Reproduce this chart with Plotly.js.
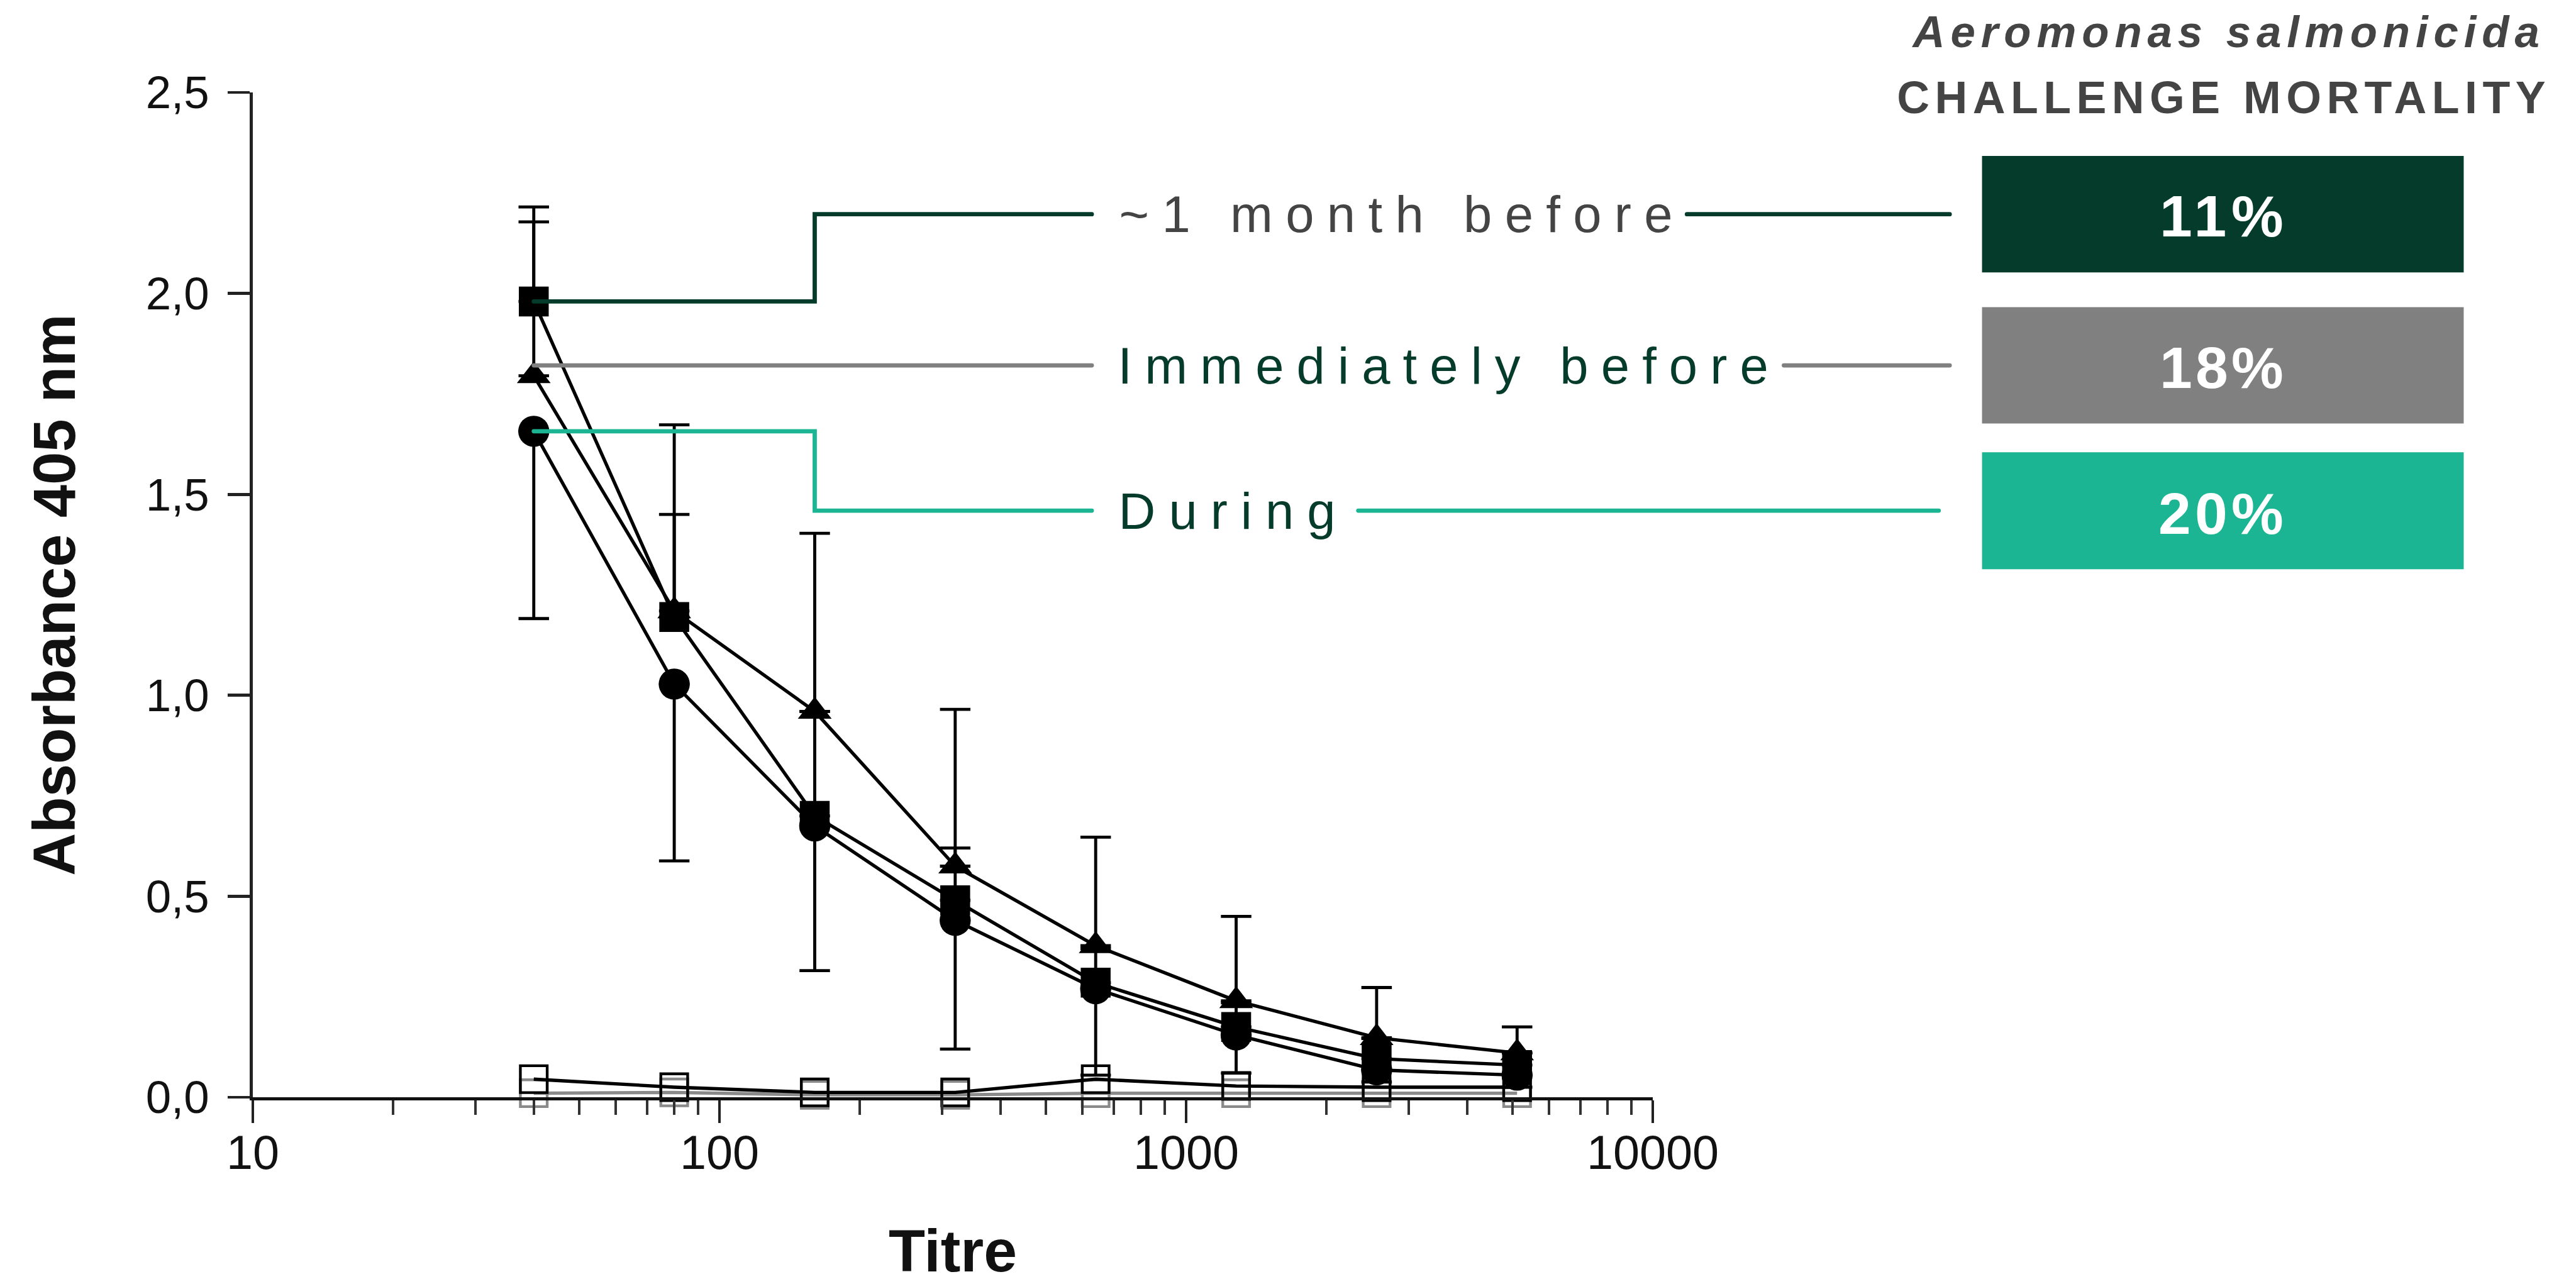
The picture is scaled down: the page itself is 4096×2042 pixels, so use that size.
<!DOCTYPE html>
<html><head><meta charset="utf-8">
<script src="https://cdn.plot.ly/plotly-3.0.1.min.js"></script>
<style>
html,body{margin:0;padding:0;background:#fff;overflow:hidden}
#chart{width:4096px;height:2042px}
.shapelayer path{stroke-linecap:round}
</style></head><body><div id="chart"></div>
<script>
// ---------- data ----------
const titres = [40, 80, 160, 320, 640, 1280, 2560, 5120];
const monthBefore = [1.98, 1.195, 0.70, 0.49, 0.285, 0.175, 0.096, 0.08];
const monthBeforeErrPlus = [0.235, 0.478, 0.26, 0.13, 0.085, 0.06, 0.05, 0.03];
const immediatelyBefore = [1.795, 1.21, 0.96, 0.575, 0.377, 0.24, 0.148, 0.11];
const immediatelyBeforeErrPlus = [0.383, 0.24, 0.443, 0.39, 0.27, 0.21, 0.125, 0.065];
const during = [1.657, 1.028, 0.675, 0.44, 0.27, 0.155, 0.068, 0.055];
const duringErrMinus = [0.466, 0.44, 0.36, 0.32, 0.215, 0.095, 0.03, 0.03];
const controlA = [0.045, 0.025, 0.012, 0.012, 0.045, 0.028, 0.025, 0.025];
const controlB = [0.01, 0.012, 0.006, 0.006, 0.01, 0.01, 0.01, 0.01];
const groupLabels = ['~1 month before', 'Immediately before', 'During'];
const mortality = ['11%', '18%', '20%'];
const xTickVals = [10, 100, 1000, 10000];
const xTickText = ['10', '100', '1000', '10000'];
const yTickStep = 0.5;
const titleLine1 = 'Aeromonas salmonicida';
const titleLine2 = 'CHALLENGE MORTALITY';

// ---------- geometry ----------
const S = 4096 / 4226;
const W = 4096, H = 2042;
const plotL = 415 * S, plotR = 2711 * S, plotT = 151.7 * S, plotB = 1800.3 * S;
const pw = plotR - plotL, ph = plotB - plotT;
const xRange = [1, 4], yRange = [0, 2.5];
const xp = d => (Math.log10(d) - xRange[0]) / (xRange[1] - xRange[0]);
const yp = v => (v - yRange[0]) / (yRange[1] - yRange[0]);
const pxX = r => (r * S - plotL) / pw;
const pxY = r => (plotB - r * S) / ph;
const FONT = 'Liberation Sans, Arial, sans-serif';
const NARROW = 'Liberation Sans Narrow, Liberation Sans, Arial, sans-serif';

const minorTicks = [];
for (let e = 1; e < 4; e++) for (let k = 2; k <= 9; k++) minorTicks.push(k * Math.pow(10, e));

const DARK = '#053B2A', GREY = '#808080', TEAL = '#1CB594', TXT = '#444444';
const callouts = [
  {label: groupLabels[0], start: monthBefore[0], color: DARK, textColor: TXT, level: 351.5, span: [1836, 2744], rs: 2767, re: 3198, box: [256, 447], pctY: 355, pctSpan: [3543, 3746]},
  {label: groupLabels[1], start: null, color: GREY, textColor: DARK, level: 599.5, span: [1834, 2901], rs: 2926, re: 3198, box: [504, 695], pctY: 603.6, pctSpan: [3543, 3746]},
  {label: groupLabels[2], start: during[0], color: TEAL, textColor: DARK, level: 837.8, span: [1835, 2191], rs: 2228, re: 3180, box: [742, 934], pctY: 843, pctSpan: [3541, 3746]}
];
const leftEnd = 1791, stepTitre = titres[2], startTitre = titres[0];

const shapes = [], annotations = [];
const spaced = {};
callouts.forEach((c, i) => {
  const ly = pxY(c.level);
  let path;
  if (c.start === null) {
    path = `M${xp(startTitre)},${ly} L${pxX(leftEnd)},${ly}`;
  } else {
    const sy = yp(c.start);
    path = `M${xp(startTitre)},${sy} L${xp(stepTitre)},${sy} L${xp(stepTitre)},${ly} L${pxX(leftEnd)},${ly}`;
  }
  shapes.push({type: 'path', xref: 'paper', yref: 'paper', path: path, line: {color: c.color, width: 7 * S}, layer: 'above'});
  shapes.push({type: 'line', xref: 'paper', yref: 'paper', x0: pxX(c.rs), x1: pxX(c.re), y0: ly, y1: ly, line: {color: c.color, width: 7 * S}});
  shapes.push({type: 'rect', xref: 'paper', yref: 'paper', x0: pxX(3251), x1: pxX(4041), y0: pxY(c.box[1]), y1: pxY(c.box[0]), fillcolor: c.color, line: {width: 0}});
  annotations.push({xref: 'paper', yref: 'paper', x: pxX((c.span[0] + c.span[1]) / 2), y: ly, text: c.label, showarrow: false,
    xanchor: 'center', yanchor: 'middle', font: {family: NARROW, size: 84 * S, color: c.textColor}});
  annotations.push({xref: 'paper', yref: 'paper', x: pxX(3646), y: pxY(c.pctY), text: mortality[i], showarrow: false,
    xanchor: 'center', yanchor: 'middle', font: {family: FONT, size: 96 * S, color: '#ffffff', weight: 700}});
  spaced[c.label] = c.span;
  spaced[mortality[i]] = c.pctSpan;
});
annotations.push({xref: 'paper', yref: 'paper', x: pxX(3650), y: pxY(52), text: titleLine1, showarrow: false,
  xanchor: 'center', yanchor: 'middle', font: {family: FONT, size: 73 * S, color: TXT, weight: 700, style: 'italic'}});
annotations.push({xref: 'paper', yref: 'paper', x: pxX(3645), y: pxY(159.5), text: titleLine2, showarrow: false,
  xanchor: 'center', yanchor: 'middle', font: {family: FONT, size: 74 * S, color: TXT, weight: 700}});
spaced[titleLine1] = [3136, 4166];
spaced[titleLine2] = [3112, 4176];

// ---------- traces ----------
const lineW = 5.5 * S;
const errT = 5 * S;
const errW = 25 * S;
const zeros = titres.map(() => 0);
const traces = [
  {x: titres, y: controlB, name: 'Control (grey)', mode: 'lines+markers', cliponaxis: false,
   line: {color: '#8a8a8a', width: lineW}, marker: {symbol: 'square-open', size: 44 * S, color: '#8a8a8a', line: {width: 4.5 * S, color: '#8a8a8a'}}},
  {x: titres, y: controlA, name: 'Control', mode: 'lines+markers', cliponaxis: false,
   line: {color: '#000', width: lineW}, marker: {symbol: 'square-open', size: 44 * S, color: '#000', line: {width: 4.5 * S, color: '#000'}}},
  {x: titres, y: during, name: groupLabels[2], mode: 'lines+markers', cliponaxis: false,
   line: {color: '#000', width: lineW}, marker: {symbol: 'circle', size: 51 * S, color: '#000'},
   error_y: {type: 'data', symmetric: false, array: zeros, arrayminus: duringErrMinus, color: '#000', thickness: errT, width: errW}},
  {x: titres, y: monthBefore, name: groupLabels[0], mode: 'lines+markers', cliponaxis: false,
   line: {color: '#000', width: lineW}, marker: {symbol: 'square', size: 49 * S, color: '#000'},
   error_y: {type: 'data', symmetric: false, array: monthBeforeErrPlus, arrayminus: zeros, color: '#000', thickness: errT, width: errW}},
  {x: titres, y: immediatelyBefore, name: groupLabels[1], mode: 'lines+markers', cliponaxis: false,
   line: {color: '#000', width: lineW}, marker: {symbol: 'triangle-up', size: 48 * S, color: '#000'},
   error_y: {type: 'data', symmetric: false, array: immediatelyBeforeErrPlus, arrayminus: zeros, color: '#000', thickness: errT, width: errW}}
];

const layout = {
  width: W, height: H,
  margin: {l: plotL, r: W - plotR, t: plotT, b: H - plotB, pad: 0, autoexpand: false},
  paper_bgcolor: '#fff', plot_bgcolor: '#fff',
  showlegend: false,
  separators: ', ',
  font: {family: FONT, color: '#111'},
  xaxis: {
    type: 'log', range: xRange, tickmode: 'array', tickvals: xTickVals, ticktext: xTickText,
    ticks: 'outside', ticklen: 37 * S, tickwidth: 4.5 * S, tickcolor: '#222',
    showline: true, linewidth: 5 * S, linecolor: '#111', showgrid: false, zeroline: false,
    tickfont: {family: FONT, size: 78 * S, color: '#111'}, ticklabelstandoff: -17,
    minor: {tickmode: 'array', tickvals: minorTicks, ticks: 'outside', ticklen: 24 * S, tickwidth: 4 * S, tickcolor: '#333', showgrid: false},
    title: {text: 'Titre', font: {family: FONT, size: 95, color: '#111', weight: 700}, standoff: 127},
    fixedrange: true
  },
  yaxis: {
    range: yRange, dtick: yTickStep, tick0: 0, tickformat: '.1f',
    ticks: 'outside', ticklen: 36 * S, tickwidth: 5 * S, tickcolor: '#222',
    showline: true, linewidth: 5 * S, linecolor: '#222', showgrid: false, zeroline: false,
    tickfont: {family: FONT, size: 75 * S, color: '#111'}, ticklabelstandoff: 15, ticklabelshift: 10 * S,
    title: {text: 'Absorbance 405 nm', font: {family: FONT, size: 94, color: '#111', weight: 700}, standoff: 82},
    fixedrange: true
  },
  shapes: shapes,
  annotations: annotations
};

const gd = document.getElementById('chart');
Plotly.newPlot(gd, traces, layout, {displayModeBar: false, staticPlot: true}).then(() => {
  gd.querySelectorAll('g.annotation').forEach(g => {
    const t = g.querySelector('text.annotation-text');
    if (!t) return;
    const key = t.textContent;
    if (!(key in spaced)) return;
    const l = spaced[key][0] * S, r = spaced[key][1] * S;
    t.style.letterSpacing = '0px';
    const w0 = t.getBoundingClientRect().width;
    const n = Array.from(key).length;
    const sp = (r - l - w0) / (n - 1);
    t.style.letterSpacing = sp + 'px';
    const rect = t.getBoundingClientRect();
    g.setAttribute('transform', `translate(${l - rect.left},0)`);
  });
});
</script></body></html>
